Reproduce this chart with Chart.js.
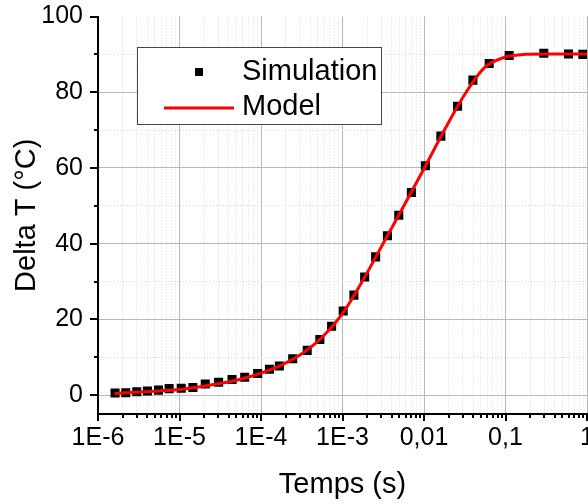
<!DOCTYPE html>
<html><head><meta charset="utf-8">
<script src="https://cdn.jsdelivr.net/npm/chart.js@4/dist/chart.umd.min.js"></script>
<style>html,body{margin:0;padding:0;background:#fff}#wrap{width:588px;height:504px}</style>
</head><body><div id="wrap"><canvas id="c" width="588" height="504"></canvas></div>
<script>
// ---- data ----
const simTimes = [1.62e-6, 2.19e-6, 2.99e-6, 4.04e-6, 5.52e-6, 7.46e-6, 1.05e-5, 1.46e-5, 2.07e-5, 3.02e-5,
  4.41e-5, 6.31e-5, 9.1e-5, 1.27e-4, 1.68e-4, 2.45e-4, 3.69e-4, 5.27e-4, 7.35e-4, 1.02e-3,
  1.38e-3, 1.87e-3, 2.55e-3, 3.56e-3, 4.9e-3, 7.0e-3, 1.04e-2, 1.61e-2, 2.58e-2, 3.98e-2,
  6.31e-2, 0.111, 0.295, 0.593, 0.89];
const simValues = [0.55, 0.6, 0.87, 1.1, 1.3, 1.7, 1.8, 2.0, 2.9, 3.4,
  4.1, 4.7, 5.7, 6.8, 7.7, 9.6, 11.8, 14.7, 18.2, 22.2,
  26.4, 31.2, 36.5, 42.1, 47.5, 53.5, 60.6, 68.4, 76.3, 83.2,
  87.6, 89.7, 90.3, 90.1, 90.0];
const modelTimes = [1.6e-6, 3e-6, 5.6e-6, 1e-5, 1.8e-5, 3.2e-5, 5.6e-5, 1e-4, 1.8e-4, 3.2e-4,
  5.6e-4, 1e-3, 1.8e-3, 3.2e-3, 5.6e-3, 1e-2, 1.8e-2, 3.2e-2, 5.6e-2, 0.1,
  0.18, 0.32, 0.56, 1];
const modelValues = [0.4, 0.75, 1.1, 1.5, 2.2, 3.1, 4.2, 5.8, 8.0, 11.0,
  15.2, 21.5, 30.5, 40.3, 49.8, 59.8, 70.2, 79.6, 86.6, 89.3,
  90.0, 90.1, 90.1, 90.1];
const xMajorTicks = [1e-6, 1e-5, 1e-4, 1e-3, 1e-2, 1e-1, 1];
const xTickLabels = ['1E-6', '1E-5', '1E-4', '1E-3', '0,01', '0,1', '1'];
const yTickValues = [0, 10, 20, 30, 40, 50, 60, 70, 80, 90, 100];
const yMajorTicks = [0, 20, 40, 60, 80, 100];
const yTickLabels = ['0', '20', '40', '60', '80', '100'];
const legendLabels = ['Simulation', 'Model'];

// all x tick positions (1..9 per decade)
const xAllTicks = [];
for (let d = 0; d < xMajorTicks.length - 1; d++) {
  for (let k = 1; k <= 9; k++) xAllTicks.push(Number((xMajorTicks[d] * k).toPrecision(6)));
}
xAllTicks.push(xMajorTicks[xMajorTicks.length - 1]);
const isXMajor = v => xMajorTicks.some(m => Math.abs(Math.log10(v) - Math.log10(m)) < 1e-6);
const xLabelFor = v => {
  const i = xMajorTicks.findIndex(m => Math.abs(Math.log10(v) - Math.log10(m)) < 1e-6);
  return i >= 0 ? xTickLabels[i] : '';
};
const yLabelFor = v => { const i = yMajorTicks.indexOf(v); return i >= 0 ? yTickLabels[i] : ''; };

const FONT = "'Liberation Sans', Arial, sans-serif";
const MAJOR_GRID = '#b8b8b8', MINOR_GRID = '#dadada';

const tickPlugin = {
  id: 'customTicks',
  afterDraw(chart) {
    const ctx = chart.ctx, xs = chart.scales.x, ys = chart.scales.y, a = chart.chartArea;
    ctx.save();
    ctx.strokeStyle = '#000';
    ctx.lineWidth = 2;
    ctx.beginPath();
    xs.ticks.forEach(t => {
      const px = Math.round(xs.getPixelForValue(t.value));
      const len = t.major ? 7 : 4;
      ctx.moveTo(px, a.bottom); ctx.lineTo(px, a.bottom + len);
    });
    ys.ticks.forEach(t => {
      const py = Math.round(ys.getPixelForValue(t.value));
      const len = t.major ? 8 : 4;
      ctx.moveTo(a.left, py); ctx.lineTo(a.left - len, py);
    });
    ctx.stroke();
    ctx.restore();
  }
};

const legendPlugin = {
  id: 'boxLegend',
  afterDraw(chart) {
    const ctx = chart.ctx;
    ctx.save();
    ctx.fillStyle = '#fff';
    ctx.fillRect(137, 47, 245, 78);
    ctx.strokeStyle = '#444';
    ctx.lineWidth = 1;
    ctx.strokeRect(137.5, 47.5, 244, 77);
    ctx.fillStyle = '#000';
    ctx.fillRect(195, 68, 8, 8);
    ctx.strokeStyle = '#ff0000';
    ctx.lineWidth = 3;
    ctx.beginPath(); ctx.moveTo(164, 108); ctx.lineTo(234, 108); ctx.stroke();
    ctx.fillStyle = '#000';
    ctx.font = '29px ' + FONT;
    ctx.textBaseline = 'middle';
    ctx.textAlign = 'left';
    ctx.fillText(legendLabels[0], 242, 72);
    ctx.fillText(legendLabels[1], 242, 107);
    ctx.restore();
  }
};

new Chart(document.getElementById('c'), {
  type: 'line',
  data: {
    datasets: [
      {
        label: legendLabels[1],
        data: modelTimes.map((t, i) => ({x: t, y: modelValues[i]})),
        borderColor: '#ff0000',
        borderWidth: 3,
        pointRadius: 0,
        cubicInterpolationMode: 'monotone',
        fill: false
      },
      {
        label: legendLabels[0],
        data: simTimes.map((t, i) => ({x: t, y: simValues[i]})),
        showLine: false,
        pointStyle: 'rect',
        pointRadius: 6.4,
        pointBackgroundColor: '#000',
        pointBorderWidth: 0,
        borderColor: '#000'
      }
    ]
  },
  options: {
    responsive: false,
    animation: false,
    devicePixelRatio: 1,
    layout: {autoPadding: false, padding: {top: 16.5, right: 1, left: 0, bottom: 0}},
    plugins: {legend: {display: false}, tooltip: {enabled: false}},
    scales: {
      x: {
        type: 'logarithmic',
        min: 1e-6,
        max: 1,
        afterBuildTicks: s => { s.ticks = xAllTicks.map(v => ({value: v, major: isXMajor(v)})); },
        afterFit: s => { s.height = 90; s.paddingLeft = 0; s.paddingRight = 0; },
        ticks: {
          autoSkip: false, maxRotation: 0, minRotation: 0, padding: 1,
          color: '#000', font: {family: FONT, size: 25},
          callback: v => xLabelFor(v)
        },
        grid: {
          color: c => (c.tick && c.tick.major) ? MAJOR_GRID : MINOR_GRID,
          lineWidth: 1,
          tickLength: 8,
          tickColor: 'rgba(0,0,0,0)'
        },
        border: {display: true, color: '#000', width: 2,
          dash: c => (c.tick && !c.tick.major) ? [1, 2] : []},
        title: {display: true, text: 'Temps (s)', color: '#000',
          font: {family: FONT, size: 29}, padding: {top: 0, bottom: 1.6}}
      },
      y: {
        type: 'linear',
        min: -5,
        max: 100,
        afterBuildTicks: s => { s.ticks = yTickValues.map(v => ({value: v, major: yMajorTicks.includes(v)})); },
        afterFit: s => { s.width = 98; s.paddingTop = 0; s.paddingBottom = 0; },
        ticks: {
          autoSkip: false, padding: 7,
          color: '#000', font: {family: FONT, size: 25},
          callback: v => yLabelFor(v)
        },
        grid: {
          color: c => {
            if (!c.tick) return MAJOR_GRID;
            if (c.tick.value === 100) return 'rgba(0,0,0,0)';
            return c.tick.major ? MAJOR_GRID : MINOR_GRID;
          },
          lineWidth: 1,
          tickLength: 8,
          tickColor: 'rgba(0,0,0,0)'
        },
        border: {display: true, color: '#000', width: 2,
          dash: c => (c.tick && !c.tick.major) ? [1, 2] : []},
        title: {display: true, text: 'Delta T (°C)', color: '#000',
          font: {family: FONT, size: 29}, padding: {top: 9.6, bottom: 0}}
      }
    }
  },
  plugins: [tickPlugin, legendPlugin]
});
</script>
</body></html>
